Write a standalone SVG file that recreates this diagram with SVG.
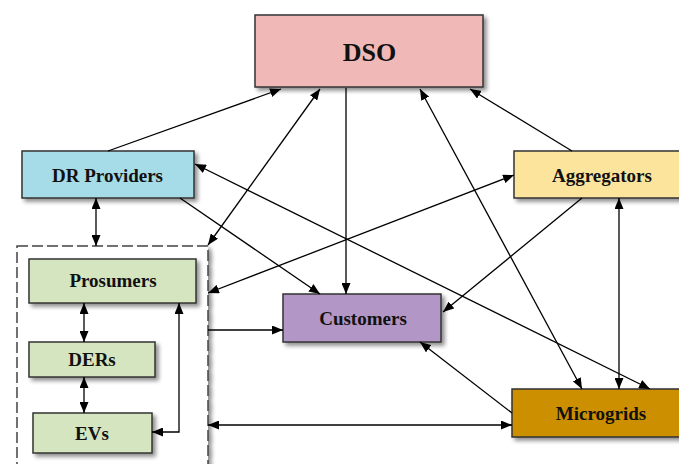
<svg xmlns="http://www.w3.org/2000/svg" width="679" height="464" viewBox="0 0 679 464">
<defs>
<filter id="sh" x="-10%" y="-10%" width="130%" height="140%">
<feGaussianBlur in="SourceAlpha" stdDeviation="2"/>
<feOffset dx="3" dy="3" result="b"/>
<feComponentTransfer><feFuncA type="linear" slope="0.45"/></feComponentTransfer>
<feMerge><feMergeNode/><feMergeNode in="SourceGraphic"/></feMerge>
</filter>
<marker id="ah" viewBox="0 0 11 9" refX="11" refY="4.5" markerWidth="11" markerHeight="9" markerUnits="userSpaceOnUse" orient="auto-start-reverse">
<path d="M0,0 L11,4.5 L0,9 z" fill="#000"/>
</marker>
</defs>
<style>
.box{stroke:#333;stroke-width:1.5;filter:url(#sh)}
.t{font-family:"Liberation Serif","Times New Roman",serif;font-weight:bold;font-size:19px;text-anchor:middle;fill:#111}
.c{fill:none;stroke:#000;stroke-width:1.3}
.e{marker-end:url(#ah)}
.b{marker-start:url(#ah);marker-end:url(#ah)}
</style>
<rect width="679" height="464" fill="#fff"/>
<g id="dso"><rect class="box" x="255" y="15" width="228" height="72" fill="#F0B9B8"/><text class="t" x="369.5" y="61" style="font-size:26px">DSO</text></g>
<g id="drproviders"><rect class="box" x="22" y="151" width="172" height="47" fill="#A6DCE7"/><text class="t" x="107.5" y="182">DR Providers</text></g>
<g id="aggregators"><rect class="box" x="514" y="151" width="176" height="47" fill="#FDE49C"/><text class="t" x="602" y="182">Aggregators</text></g>
<g id="group"><rect x="17" y="246" width="191" height="230" fill="#fff" stroke="#444" stroke-width="1.5" stroke-dasharray="11,4" filter="url(#sh)"/></g>
<g id="prosumers"><rect class="box" x="29" y="259" width="167" height="44" fill="#D5E5C0"/><text class="t" x="113" y="287">Prosumers</text></g>
<g id="ders"><rect class="box" x="29" y="342" width="126" height="35" fill="#D5E5C0"/><text class="t" x="92" y="366">DERs</text></g>
<g id="evs"><rect class="box" x="33" y="413" width="119" height="40" fill="#D5E5C0"/><text class="t" x="92" y="440">EVs</text></g>
<g id="customers"><rect class="box" x="283" y="294" width="158" height="48" fill="#B196C6"/><text class="t" x="363" y="325">Customers</text></g>
<g id="microgrids"><rect class="box" x="512" y="389" width="178" height="48" fill="#CC8F00"/><text class="t" x="601" y="420">Microgrids</text></g>
<g id="connectors">
<path class="c e" d="M108,151 L281,89"/>
<path class="c b" d="M320,89 L208,245"/>
<path class="c e" d="M346,88 L346,294"/>
<path class="c b" d="M420,89 L582,389"/>
<path class="c e" d="M572,151 L470,89"/>
<path class="c b" d="M195,164 L650,389"/>
<path class="c e" d="M180,198 L320,294"/>
<path class="c b" d="M96,198 L96,246"/>
<path class="c b" d="M514,175 L208,293"/>
<path class="c e" d="M582,198 L443,312"/>
<path class="c b" d="M619,198 L619,389"/>
<path class="c e" d="M512,413 L420,342"/>
<path class="c b" d="M208,425 L512,425"/>
<path class="c e" d="M208,330 L283,330"/>
<path class="c b" d="M84,303 L84,342"/>
<path class="c b" d="M84,377 L84,413"/>
<path class="c b" d="M152,432 L179,432 L179,303"/>
</g>
</svg>
